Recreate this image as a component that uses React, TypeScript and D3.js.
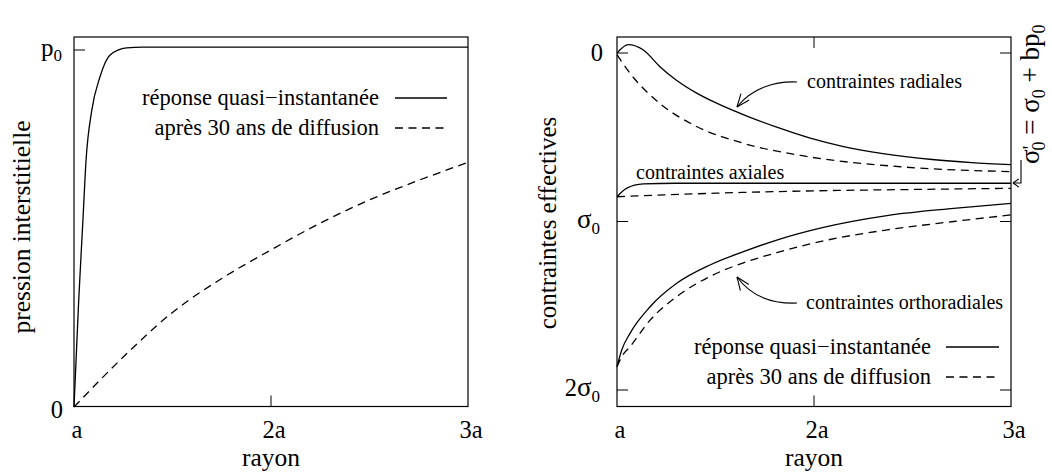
import React, { useEffect, useRef } from "react";
import * as d3 from "d3";

// radius in units of a
const rTicks = [1, 2, 3];
const rTickLabels = ["a", "2a", "3a"];

// left panel: pore pressure (units of p0)
const rPoreInst = [1, 1.012, 1.024, 1.045, 1.061, 1.09, 1.132, 1.183, 1.267, 1.35, 3];
const pPoreInst = [0, 0.15, 0.3, 0.52, 0.69, 0.83, 0.925, 0.986, 1.006, 1.008, 1.008];
const rPore30 = [1, 1.25, 1.5, 1.75, 2, 2.25, 2.5, 2.75, 3];
const pPore30 = [0, 0.14, 0.265, 0.36, 0.44, 0.515, 0.58, 0.635, 0.685];

// right panel: effective stresses (units of sigma0, 0 at top)
const rRadInst = [1, 1.057, 1.134, 1.218, 1.3, 1.4, 1.5, 1.65, 1.811, 1.981, 2.15, 2.35, 2.6, 2.8, 3];
const sRadInst = [0, -0.05, -0.018, 0.081, 0.16, 0.235, 0.295, 0.37, 0.44, 0.505, 0.555, 0.597, 0.632, 0.65, 0.662];
const rRad30 = [1, 1.066, 1.218, 1.388, 1.642, 1.947, 2.438, 3];
const sRad30 = [0.01, 0.12, 0.3, 0.427, 0.536, 0.611, 0.675, 0.704];
const rAxInst = [1, 1.048, 1.134, 1.3, 3];
const sAxInst = [0.853, 0.803, 0.777, 0.773, 0.773];
const rAx30 = [1, 1.5, 2, 2.5, 3];
const sAx30 = [0.853, 0.832, 0.818, 0.81, 0.803];
const rOrthoInst = [1, 1.025, 1.066, 1.168, 1.303, 1.472, 1.642, 1.811, 2.048, 2.37, 2.709, 3];
const sOrthoInst = [1.862, 1.76, 1.664, 1.506, 1.367, 1.258, 1.179, 1.11, 1.035, 0.965, 0.922, 0.892];
const rOrtho30 = [1, 1.025, 1.066, 1.168, 1.303, 1.472, 1.642, 1.811, 2.048, 2.37, 2.709, 3];
const sOrtho30 = [1.862, 1.8, 1.743, 1.585, 1.446, 1.326, 1.245, 1.185, 1.115, 1.05, 1.0, 0.961];

const legendLabels = ["réponse quasi\u2212instantanée", "après 30 ans de diffusion"];

const FONT = "Liberation Serif";
const DASH = "8 5.5";

type Pt = [number, number];
const zip = (xs: number[], ys: number[]): Pt[] => xs.map((x, i) => [x, ys[i]]);

const App: React.FC = () => {
  const ref = useRef<SVGSVGElement>(null);

  useEffect(() => {
    document.body.style.margin = "0";
    if (!ref.current) return;
    const svg = d3.select(ref.current);
    svg.selectAll("*").remove();

    const top = 37;
    const bottom = 406.5;

    const txt = (g: any, x: number, y: number, size: number, anchor = "start") =>
      g
        .append("text")
        .attr("x", x)
        .attr("y", y)
        .attr("font-family", FONT)
        .attr("font-size", size)
        .attr("text-anchor", anchor)
        .attr("fill", "#000");

    // helper for open arrow heads
    const arrowHead = (g: any, tip: Pt, dir: Pt, len: number, ang: number) => {
      const a = Math.atan2(dir[1], dir[0]);
      [ang, -ang].forEach((d) => {
        g.append("line")
          .attr("x1", tip[0])
          .attr("y1", tip[1])
          .attr("x2", tip[0] - len * Math.cos(a + d))
          .attr("y2", tip[1] - len * Math.sin(a + d))
          .attr("stroke", "#000")
          .attr("stroke-width", 1.1);
      });
    };

    // ---------- left panel ----------
    const xL = d3.scaleLinear().domain([1, 3]).range([74, 468]);
    const yL = d3.scaleLinear().domain([0, 1]).range([407, 50]);
    const gL = svg.append("g");

    gL.append("rect")
      .attr("x", 74)
      .attr("y", top)
      .attr("width", 468 - 74)
      .attr("height", bottom - top)
      .attr("fill", "none")
      .attr("stroke", "#000")
      .attr("stroke-width", 1.2);

    // ticks
    gL.append("line").attr("x1", 74).attr("x2", 85).attr("y1", yL(1)).attr("y2", yL(1)).attr("stroke", "#000");
    gL.append("line").attr("x1", xL(2)).attr("x2", xL(2)).attr("y1", bottom).attr("y2", bottom - 11).attr("stroke", "#000");

    rTicks.forEach((t, i) => {
      txt(gL, xL(t) + 3, 437.5, 24.5, "middle").text(rTickLabels[i]);
    });
    const p0 = txt(gL, 62, yL(1) + 6, 25, "end");
    p0.append("tspan").text("p");
    p0.append("tspan").attr("font-size", 17).attr("dy", 5).text("0");
    txt(gL, 63, 418, 24.5, "end").text("0");

    txt(gL, xL(2), 466, 25.5, "middle").text("rayon");
    txt(gL, 0, 0, 25.5, "middle").attr("transform", "translate(30,227) rotate(-90)").text("pression interstitielle");

    const lineL = d3
      .line<Pt>()
      .x((d) => xL(d[0]))
      .y((d) => yL(d[1]))
      .curve(d3.curveMonotoneX);

    gL.append("path").datum(zip(rPoreInst, pPoreInst)).attr("d", lineL).attr("fill", "none").attr("stroke", "#000").attr("stroke-width", 1.3);
    gL.append("path").datum(zip(rPore30, pPore30)).attr("d", lineL).attr("fill", "none").attr("stroke", "#000").attr("stroke-width", 1.3).attr("stroke-dasharray", DASH);

    // legend left
    legendLabels.forEach((lab, i) => {
      const y = 98 + i * 30;
      txt(gL, 379, y + 7, 22.5, "end").text(lab);
      gL.append("line")
        .attr("x1", 395)
        .attr("x2", 447)
        .attr("y1", y)
        .attr("y2", y)
        .attr("stroke", "#000")
        .attr("stroke-width", 1.3)
        .attr("stroke-dasharray", i === 1 ? DASH : null);
    });

    // ---------- right panel ----------
    const xR = d3.scaleLinear().domain([1, 3]).range([617, 1011]);
    const yR = d3.scaleLinear().domain([0, 2]).range([53, 390]);
    const gR = svg.append("g");

    gR.append("rect")
      .attr("x", 617)
      .attr("y", top)
      .attr("width", 1011 - 617)
      .attr("height", bottom - top)
      .attr("fill", "none")
      .attr("stroke", "#000")
      .attr("stroke-width", 1.2);

    [0, 1, 2].forEach((v) => {
      gR.append("line").attr("x1", 617).attr("x2", 628).attr("y1", yR(v)).attr("y2", yR(v)).attr("stroke", "#000");
      gR.append("line").attr("x1", 1011).attr("x2", 1000).attr("y1", yR(v)).attr("y2", yR(v)).attr("stroke", "#000");
    });
    gR.append("line").attr("x1", xR(2)).attr("x2", xR(2)).attr("y1", bottom).attr("y2", bottom - 11).attr("stroke", "#000");
    gR.append("line").attr("x1", xR(2)).attr("x2", xR(2)).attr("y1", top).attr("y2", top + 11).attr("stroke", "#000");

    rTicks.forEach((t, i) => {
      txt(gR, xR(t) + 3, 437.5, 24.5, "middle").text(rTickLabels[i]);
    });
    txt(gR, 603, yR(0) + 8, 24.5, "end").text("0");
    const s1 = txt(gR, 600, yR(1) + 6, 27, "end");
    s1.append("tspan").text("σ");
    s1.append("tspan").attr("font-size", 17).attr("dy", 6).text("0");
    const s2 = txt(gR, 600, yR(2) + 6, 27, "end");
    s2.append("tspan").attr("font-size", 24.5).text("2");
    s2.append("tspan").text("σ");
    s2.append("tspan").attr("font-size", 17).attr("dy", 6).text("0");

    txt(gR, xR(2), 466, 25.5, "middle").text("rayon");
    txt(gR, 0, 0, 25, "middle").attr("transform", "translate(556,223) rotate(-90)").text("contraintes effectives");

    const lineR = d3
      .line<Pt>()
      .x((d) => xR(d[0]))
      .y((d) => yR(d[1]))
      .curve(d3.curveMonotoneX);

    const curves: [number[], number[], boolean][] = [
      [rRadInst, sRadInst, false],
      [rRad30, sRad30, true],
      [rAxInst, sAxInst, false],
      [rAx30, sAx30, true],
      [rOrthoInst, sOrthoInst, false],
      [rOrtho30, sOrtho30, true],
    ];
    curves.forEach(([xs, ys, dashed]) => {
      gR.append("path")
        .datum(zip(xs, ys))
        .attr("d", lineR)
        .attr("fill", "none")
        .attr("stroke", "#000")
        .attr("stroke-width", 1.3)
        .attr("stroke-dasharray", dashed ? DASH : null);
    });

    // annotations
    txt(gR, 807, 88, 20).text("contraintes radiales");
    gR.append("path").attr("d", "M797,82 C775,81 752,88 737,107").attr("fill", "none").attr("stroke", "#000").attr("stroke-width", 1.1);
    arrowHead(gR, [737, 107], [-15, 19], 14, 0.38);

    txt(gR, 636, 179, 20).text("contraintes axiales");

    txt(gR, 806, 309, 20).text("contraintes orthoradiales");
    gR.append("path").attr("d", "M797,303 C770,304 750,295 737,277").attr("fill", "none").attr("stroke", "#000").attr("stroke-width", 1.1);
    arrowHead(gR, [737, 277], [-13, -18], 14, 0.38);

    // right side label with bent arrow
    gR.append("path").attr("d", "M1021,160 L1021,183 L1013,183").attr("fill", "none").attr("stroke", "#000").attr("stroke-width", 1.1);
    arrowHead(gR, [1013, 183], [-1, 0], 7, 0.6);
    const lab = txt(gR, 0, 0, 27).attr("transform", "translate(1039,164) rotate(-90)");
    lab.append("tspan").text("σ");
    lab.append("tspan").attr("font-size", 22).attr("dy", -2).text("'");
    lab.append("tspan").attr("font-size", 18).attr("dx", -5).attr("dy", 8).text("0");
    lab.append("tspan").attr("dy", -6).text(" = σ");
    lab.append("tspan").attr("font-size", 18).attr("dy", 6).text("0");
    lab.append("tspan").attr("dy", -6).text(" + bp");
    lab.append("tspan").attr("font-size", 18).attr("dy", 6).text("0");

    // legend right
    legendLabels.forEach((l, i) => {
      const y = 347 + i * 30;
      txt(gR, 931, y + 7, 22.5, "end").text(l);
      gR.append("line")
        .attr("x1", 946)
        .attr("x2", 999)
        .attr("y1", y)
        .attr("y2", y)
        .attr("stroke", "#000")
        .attr("stroke-width", 1.3)
        .attr("stroke-dasharray", i === 1 ? DASH : null);
    });
  }, []);

  return <svg ref={ref} width={1052} height={472} style={{ display: "block", background: "#fff" }} />;
};

export default App;
